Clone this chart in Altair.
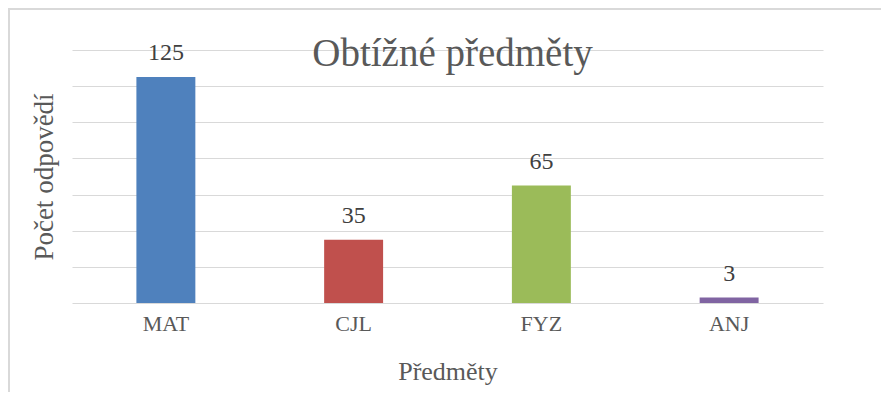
import altair as alt
import pandas as pd

subjects = ["MAT", "CJL", "FYZ", "ANJ"]
counts = [125, 35, 65, 3]
colors = ["#4f81bd", "#c0504d", "#9bbb59", "#8064a2"]

title_text = "Obtížné předměty"
x_title = "Předměty"
y_title = "Počet odpovědí"

df = pd.DataFrame({"subject": subjects, "count": counts, "color": colors})
title_df = pd.DataFrame({"t": [title_text]})

FONT = "Liberation Serif"
W, H = 751, 253
PAD = {"left": 64, "top": 42, "right": 58, "bottom": 89}

x_enc = alt.X("subject:N", sort=subjects,
              scale=alt.Scale(paddingInner=0.686, paddingOuter=0.343),
              axis=alt.Axis(title=x_title, labelAngle=0, domain=False, ticks=False,
                            labelFont=FONT, labelFontSize=22, labelColor="#595959",
                            labelPadding=10, titleFont=FONT, titleFontSize=26,
                            titleColor="#595959", titleFontWeight="normal",
                            titlePadding=24))
y_enc = alt.Y("count:Q", scale=alt.Scale(domain=[0, 140], nice=False),
              axis=alt.Axis(title=y_title, values=[0, 20, 40, 60, 80, 100, 120, 140],
                            labels=False, ticks=False, domain=False,
                            grid=True, gridColor="#d9d9d9", gridWidth=1,
                            titleFont=FONT, titleFontSize=27, titleColor="#595959",
                            titleFontWeight="normal", titlePadding=14))

bars = alt.Chart(df).mark_bar().encode(
    x=x_enc, y=y_enc,
    color=alt.Color("color:N", scale=None),
)

labels = alt.Chart(df).mark_text(baseline="bottom", dy=-12, font=FONT,
                                 fontSize=24, color="#404040").encode(
    x=x_enc,
    y=y_enc,
    text="count:Q",
)

title = alt.Chart(title_df).mark_text(baseline="alphabetic", align="center", font=FONT,
                                      fontSize=39, color="#595959").encode(
    x=alt.value(W / 2 + 5), y=alt.value(16), text="t:N"
)

border_top = alt.Chart(title_df).mark_rule(color="#d9d9d9", strokeWidth=2).encode(
    x=alt.value(-PAD["left"]), x2=alt.value(W + PAD["right"]), y=alt.value(-PAD["top"] + 1)
)
border_left = alt.Chart(title_df).mark_rule(color="#d9d9d9", strokeWidth=2).encode(
    x=alt.value(-PAD["left"] + 1), y=alt.value(-PAD["top"]), y2=alt.value(H + PAD["bottom"])
)

chart = alt.layer(bars, labels, title, border_top, border_left).properties(
    width=W, height=H,
    autosize=alt.AutoSizeParams(type="none"),
    padding=PAD,
).configure_view(stroke=None)

chart.save("out.html", embed_options={"renderer": "svg", "actions": False})
